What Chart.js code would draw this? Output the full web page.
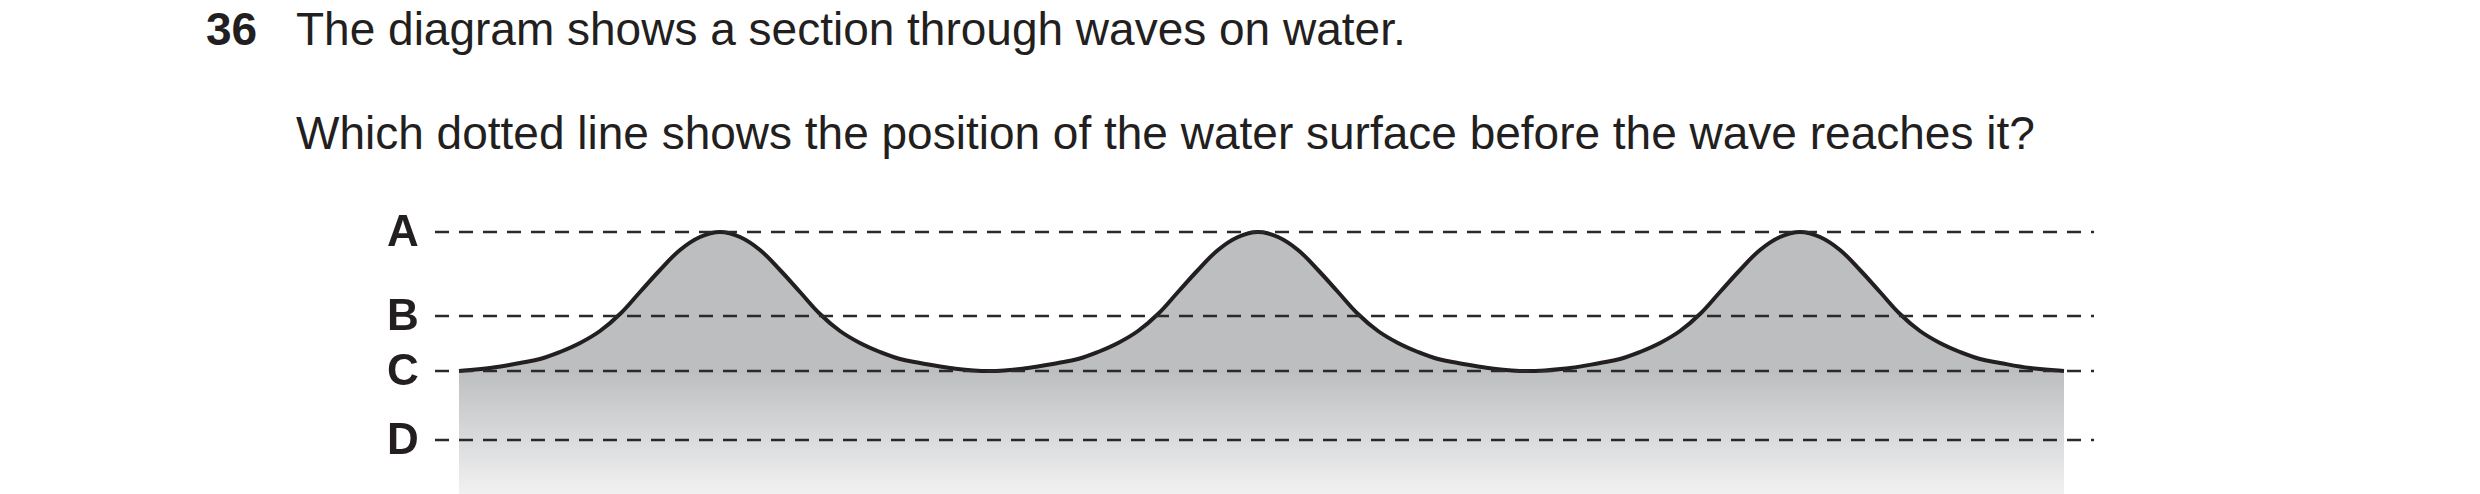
<!DOCTYPE html>
<html><head><meta charset="utf-8">
<script src="https://cdn.jsdelivr.net/npm/chart.js@4"></script>
<style>
html,body{margin:0;padding:0;background:#fff;width:2480px;height:494px;overflow:hidden;font-family:"Liberation Sans",Arial,sans-serif;color:#231f20}
#wrap{position:absolute;left:0;top:0;width:2480px;height:494px}
.t{position:absolute;font-size:46px;white-space:nowrap}
</style></head><body>
<div class="t" style="left:206px;top:2px;font-weight:bold">36</div>
<div class="t" style="left:296px;top:2px">The diagram shows a section through waves on water.</div>
<div class="t" style="left:296px;top:106px">Which dotted line shows the position of the water surface before the wave reaches it?</div>
<div id="wrap"><canvas id="c"></canvas></div>
<script>
const levelLabels = ['A','B','C','D'];
const levelValues = [139, 55, 0, -69];
const waveX = [0,31,61,81,101,121,141,161,181,201,221,241,261,281,301,321,341,361,381,401,421,441,461,491,530,569,599,619,639,659,679,699,719,739,759,779,799,819,839,859,879,899,919,939,959,979,999,1029,1068,1111,1141,1161,1181,1201,1221,1241,1261,1281,1301,1321,1341,1361,1381,1401,1421,1441,1461,1481,1501,1521,1541,1571,1605];
const waveY = [0,3,8,12,19,28,40,57,79,101,121,134,139,134,121,101,79,57,40,28,19,12,8,3,0,3,8,12,19,28,40,57,79,101,121,134,139,134,121,101,79,57,40,28,19,12,8,3,0,3,8,12,19,28,40,57,79,101,121,134,139,134,121,101,79,57,40,28,19,12,8,3,0];
const lineStart = -24, lineEnd = 1635;

const datasets = [{
  data: waveX.map((x,i)=>({x, y: waveY[i]})),
  borderColor:'#231f20', borderWidth:4, pointRadius:0, tension:0.4,
  fill:'start', order:2,
  backgroundColor: ctx => {
    const ca = ctx.chart.chartArea; if(!ca) return '#bcbdbf';
    const y0 = ctx.chart.scales.y.getPixelForValue(0);
    const g = ctx.chart.ctx.createLinearGradient(0, y0, 0, ca.bottom);
    g.addColorStop(0,'#bdbec0'); g.addColorStop(0.5,'#d7d8da'); g.addColorStop(1,'#f1f1f1');
    return g;
  }
}];
levelValues.forEach(v => datasets.push({
  data:[{x:lineStart,y:v},{x:lineEnd,y:v}], borderColor:'#2a2a2a', borderWidth:2.5,
  borderDash:[14,10], pointRadius:0, fill:false, order:1
}));
const labelPlugin = {id:'lbl', afterDraw(chart){
  const c = chart.ctx, xs = chart.scales.x, ys = chart.scales.y;
  c.save(); c.fillStyle='#231f20';
  c.font='bold 44px "Liberation Sans Narrow","Liberation Sans",Arial';
  c.textAlign='center'; c.textBaseline='middle';
  levelLabels.forEach((l,i)=>c.fillText(l, xs.getPixelForValue(-56), ys.getPixelForValue(levelValues[i])+2));
  c.restore();
}};
new Chart(document.getElementById('c'), {
  type:'line', data:{datasets},
  options:{responsive:true, maintainAspectRatio:false, animation:false,
    layout:{padding:0},
    plugins:{legend:{display:false}, tooltip:{enabled:false}},
    scales:{
      x:{type:'linear', min:-459, max:2021, display:false},
      y:{type:'linear', min:-123, max:371, display:false}
    }},
  plugins:[labelPlugin]
});
</script></body></html>
